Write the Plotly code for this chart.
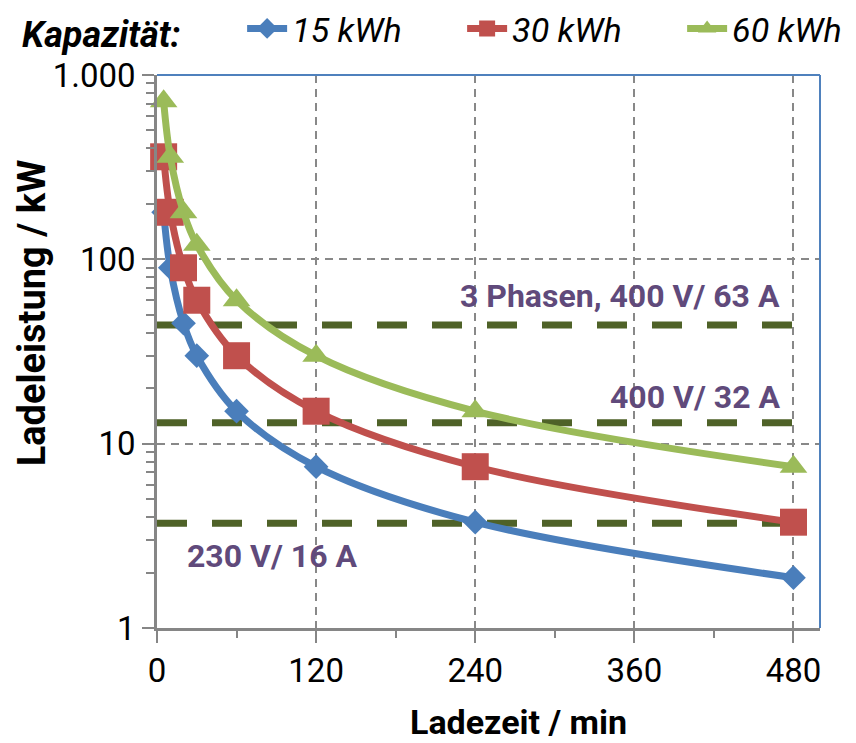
import math
import plotly.graph_objects as go

# ---- data ----
ladezeit_min = [5, 10, 20, 30, 60, 120, 240, 480]
leistung_15 = [180, 90, 45, 30, 15, 7.5, 3.75, 1.875]
leistung_30 = [360, 180, 90, 60, 30, 15, 7.5, 3.75]
leistung_60 = [720, 360, 180, 120, 60, 30, 15, 7.5]
serien_namen = ["15 kWh", "30 kWh", "60 kWh"]

grenz_x = [0, 490]
grenz_werte = [44, 13, 3.7]
grenz_labels = ["3 Phasen, 400 V/ 63 A", "400 V/ 32 A", "230 V/ 16 A"]
label_x = [471, 471, 21]
label_y = [63, 18, 2.46]
label_anchor = ["right", "right", "left"]

x_ticks = [0, 120, 240, 360, 480]
y_ticks = [1, 10, 100, 1000]
y_ticktext = ["1", "10", "100", "1.000"]
y_minor = [2, 3, 4, 5, 6, 7, 8, 9, 20, 30, 40, 50, 60, 70, 80, 90, 200, 300, 400, 500, 600, 700, 800, 900]

FONT = "Roboto, Liberation Sans, sans-serif"
GRID = "#888888"
AXIS = "#868686"

fig = go.Figure()

for v in grenz_werte:
    fig.add_trace(go.Scatter(
        x=grenz_x, y=[v, v], mode="lines",
        line=dict(color="#4F6228", width=7, dash="30px,25px"),
        showlegend=False, hoverinfo="skip"))

serien = [
    (leistung_15, "#4A7EBB", "diamond", 19),
    (leistung_30, "#C0504D", "square", 27),
    (leistung_60, "#9BBB59", "triangle-up", 24),
]
for (vals, col, sym, sz), name in zip(serien, serien_namen):
    fig.add_trace(go.Scatter(
        x=ladezeit_min, y=vals, mode="lines+markers", name="<i>" + name + "</i>",
        line=dict(color=col, width=7, shape="spline", smoothing=1.0),
        marker=dict(symbol=sym, size=sz, color=col, line=dict(width=0)),
        cliponaxis=False))

for text, x, y, anc in zip(grenz_labels, label_x, label_y, label_anchor):
    fig.add_annotation(x=x, y=math.log10(y), yref="y", xref="x", text="<b>" + text + "</b>",
                       showarrow=False, xanchor=anc, yanchor="middle",
                       font=dict(family=FONT, size=32, color="#604A7B"))

# axis titles as annotations (positioned like the original)
fig.add_annotation(x=0.546, y=-0.170, xref="paper", yref="paper",
                   text="<b>Ladezeit / min</b>", showarrow=False,
                   xanchor="center", yanchor="middle",
                   font=dict(family=FONT, size=34, color="black"))
fig.add_annotation(x=-0.188, y=0.5696, xref="paper", yref="paper",
                   text="<b>Ladeleistung / kW</b>", showarrow=False, textangle=-90,
                   xanchor="center", yanchor="middle",
                   font=dict(family=FONT, size=38, color="black"))

fig.add_shape(type="line", xref="paper", yref="paper", x0=0, x1=1, y0=1, y1=1,
              line=dict(color="#4F81BD", width=2))
fig.add_shape(type="line", xref="paper", yref="paper", x0=1, x1=1, y0=0, y1=1,
              line=dict(color="#4F81BD", width=2))

fig.update_layout(
    width=856, height=743,
    margin=dict(l=149, r=44, t=67, b=123, autoexpand=False),
    paper_bgcolor="white", plot_bgcolor="white",
    font=dict(family=FONT, size=32, color="black"),
    showlegend=True,
    legend=dict(
        orientation="h", xref="container", yref="container",
        x=0.014, y=0.972, xanchor="left", yanchor="middle",
        title=dict(text="<b><i>Kapazität:</i></b>&nbsp;&nbsp;&nbsp;&nbsp;&nbsp;&nbsp;", side="left",
                   font=dict(family=FONT, size=36, color="black")),
        font=dict(family=FONT, size=34, color="black"),
        itemwidth=40, entrywidth=165, entrywidthmode="pixels",
        tracegroupgap=0, bgcolor="rgba(0,0,0,0)"),
    xaxis=dict(
        range=[0, 500], tickvals=x_ticks, ticks="outside", ticklen=12,
        tickwidth=2, tickcolor=AXIS,
        showline=True, linecolor=AXIS, linewidth=2.5,
        showgrid=True, gridcolor=GRID, gridwidth=2, griddash="8px,6px",
        zeroline=False,
        minor=dict(ticks="outside", dtick=60, tick0=0, ticklen=7, tickwidth=2,
                   tickcolor=AXIS, showgrid=False),
        tickfont=dict(family=FONT, size=33)),
    yaxis=dict(
        type="log", range=[0, 3], tickvals=y_ticks, ticktext=y_ticktext,
        ticks="outside", ticklen=12, tickwidth=2, tickcolor=AXIS,
        showline=True, linecolor=AXIS, linewidth=2.5,
        showgrid=True, gridcolor=GRID, gridwidth=2, griddash="8px,6px",
        zeroline=False,
        minor=dict(ticks="outside", tickvals=y_minor, ticklen=8, tickwidth=2,
                   tickcolor=AXIS, showgrid=False),
        tickfont=dict(family=FONT, size=33)),
)

fig.write_html("out.html")
